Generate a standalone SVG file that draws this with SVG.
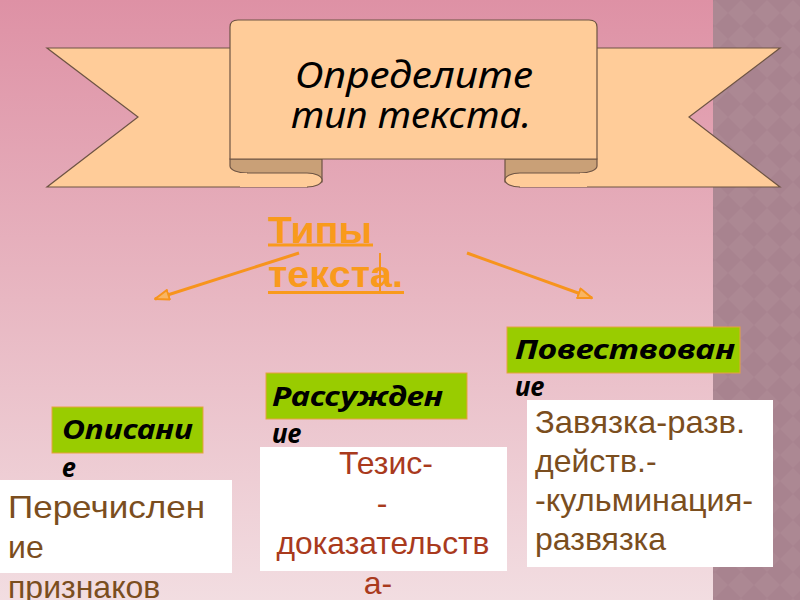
<svg xmlns="http://www.w3.org/2000/svg" width="800" height="600" viewBox="0 0 800 600">
  <defs>
    <linearGradient id="bg" x1="0" y1="0" x2="0" y2="1">
      <stop offset="0" stop-color="#de91a5"/>
      <stop offset="0.5" stop-color="#e8b7c2"/>
      <stop offset="1" stop-color="#f2dde1"/>
    </linearGradient>
    <pattern id="diam" width="26" height="26" patternUnits="userSpaceOnUse">
      <rect width="26" height="26" fill="#a8838f"/>
      <path d="M13,0 L26,13 L13,26 L0,13 Z" fill="#ac8893"/>
    </pattern>
    <marker id="arr" viewBox="0 0 16 12" refX="15" refY="6" markerWidth="16" markerHeight="12" markerUnits="userSpaceOnUse" orient="auto">
      <path d="M1,1 L15,6 L1,11 Z" fill="#f9b563" stroke="#f7941d" stroke-width="2" stroke-linejoin="round"/>
    </marker>
    <g id="sideL">
      <path d="M47,48 H307 V187 H47 L138,117 Z" class="rib"/>
      <path d="M230,159 H322 V182 H247 V173 A17,7 0 0 1 230,166 Z" class="fold"/>
      <path d="M240,173 H307 A15,7 0 0 1 307,187 H240 Z" fill="#ffcc99"/>
      <path d="M247,173 H307 A15,7 0 0 1 307,187" class="edge"/>
    </g>
  </defs>
  <style>
    .rib { fill: #ffcc99; stroke: #6e5444; stroke-width: 1.2; stroke-linejoin: miter; }
    .fold { fill: #c9a077; stroke: #6e5444; stroke-width: 1.2; }
    .edge { fill: none; stroke: #6e5444; stroke-width: 1.2; }
    .title { font-family: "Noto Sans", "Liberation Sans", sans-serif; font-style: italic; font-size: 37px; fill: #000; text-anchor: middle; }
    .types { font-family: "Liberation Sans", Arial, sans-serif; font-weight: bold; font-size: 37px; fill: #f99a1c; }
    .lab { fill: #99cc00; stroke: #e7a23e; stroke-width: 1; }
    .labt { font-family: "Noto Sans", "Liberation Sans", sans-serif; font-weight: bold; font-style: italic; font-size: 26px; fill: #000; }
    .box { fill: #ffffff; }
    .body { font-family: "Liberation Sans", Arial, sans-serif; font-size: 32px; fill: #7b4e1e; }
    .red { fill: #a93a1d; text-anchor: middle; }
    .conn { stroke: #f7941d; stroke-width: 3; fill: none; }
  </style>

  <rect width="800" height="600" fill="url(#bg)"/>
  <rect x="713" y="0" width="87" height="600" fill="url(#diam)"/>

  <g id="banner">
    <use href="#sideL"/>
    <use href="#sideL" transform="translate(827,0) scale(-1,1)"/>
    <path d="M230,159 V27 Q230,20 238,20 H589 Q597,20 597,27 V159 Z" class="rib"/>
    <text class="title" x="414" y="88" textLength="238" lengthAdjust="spacingAndGlyphs">Определите</text>
    <text class="title" x="411" y="128" textLength="240" lengthAdjust="spacingAndGlyphs">тип текста.</text>
  </g>

  <g id="types">
    <text class="types" x="268" y="243" textLength="104" lengthAdjust="spacingAndGlyphs">Типы</text>
    <text class="types" x="268" y="287" textLength="135" lengthAdjust="spacingAndGlyphs">текста.</text>
    <rect x="268" y="243.5" width="105" height="3" fill="#f99a1c"/>
    <rect x="268" y="291" width="136" height="3" fill="#f99a1c"/>
  </g>

  <g id="connectors">
    <line class="conn" x1="299" y1="253" x2="155" y2="299" marker-end="url(#arr)"/>
    <line class="conn" x1="467" y1="253" x2="592" y2="298" marker-end="url(#arr)"/>
    <line x1="380" y1="253" x2="380" y2="291" stroke="#f7941d" stroke-width="2"/>
  </g>

  <g id="opisanie">
    <rect class="lab" x="52" y="407" width="151" height="46"/>
    <text class="labt" x="62" y="439" textLength="131" lengthAdjust="spacingAndGlyphs">Описани</text>
    <text class="labt" x="62" y="477">е</text>
  </g>

  <g id="rassuzhdenie">
    <rect class="lab" x="266" y="373" width="201" height="46"/>
    <text class="labt" x="272" y="406" textLength="171" lengthAdjust="spacingAndGlyphs">Рассужден</text>
    <text class="labt" x="272" y="443">ие</text>
  </g>

  <g id="povestvovanie">
    <rect class="lab" x="507" y="327" width="233" height="46"/>
    <text class="labt" x="515" y="359" textLength="220" lengthAdjust="spacingAndGlyphs">Повествован</text>
    <text class="labt" x="515" y="396">ие</text>
  </g>

  <g id="box-opisanie">
    <rect class="box" x="0" y="480" width="232" height="93"/>
    <text class="body" x="8" y="518" textLength="197" lengthAdjust="spacingAndGlyphs">Перечислен</text>
    <text class="body" x="8" y="558">ие</text>
    <text class="body" x="8" y="598">признаков</text>
  </g>

  <g id="box-rassuzhdenie">
    <rect class="box" x="260" y="447" width="247" height="124"/>
    <text class="body red" x="386" y="474">Тезис-</text>
    <text class="body red" x="382" y="514">-</text>
    <text class="body red" x="383" y="554" textLength="213" lengthAdjust="spacingAndGlyphs">доказательств</text>
    <text class="body red" x="378" y="594">а-</text>
  </g>

  <g id="box-povestvovanie">
    <rect class="box" x="527" y="400" width="246" height="167"/>
    <text class="body" x="535" y="433" textLength="210" lengthAdjust="spacingAndGlyphs">Завязка-разв.</text>
    <text class="body" x="535" y="472">действ.-</text>
    <text class="body" x="535" y="511" textLength="218" lengthAdjust="spacingAndGlyphs">-кульминация-</text>
    <text class="body" x="535" y="550">развязка</text>
  </g>
</svg>
